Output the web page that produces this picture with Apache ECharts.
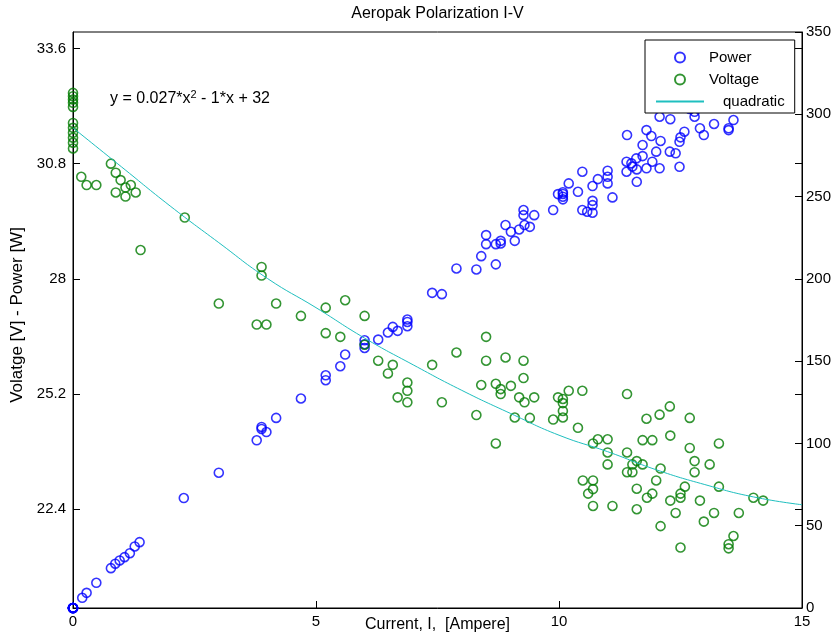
<!DOCTYPE html>
<html>
<head>
<meta charset="utf-8">
<script src="https://cdn.jsdelivr.net/npm/echarts@6/dist/echarts.min.js"></script>
<style>
  html, body { margin: 0; padding: 0; background: #fff; }
  #chart { width: 832px; height: 635px; }
</style>
</head>
<body>
<div id="chart"></div>
<script>
// Measured cell voltage [V] against current [A]
const voltageCurrent = [
  0, 0, 0, 0, 0, 0, 0, 0, 0, 0, 0,
  0.17, 0.28, 0.48, 0.78, 0.88, 0.98, 0.88, 1.08, 1.08, 1.19, 1.29, 1.39,
  2.30, 3.00, 3.78, 3.88, 3.88, 3.98, 4.18, 4.69,
  5.20, 5.20, 5.50, 5.60, 6.00, 6.00, 6.28, 6.48, 6.58, 6.68, 6.88, 6.88, 6.88,
  7.39, 7.59, 7.89, 8.30, 8.40, 8.50, 8.50, 8.70, 8.70, 8.80, 8.80, 8.90,
  9.01, 9.09, 9.18, 9.27, 9.27, 9.29, 9.40, 9.49, 9.88, 9.98,
  10.08, 10.08, 10.08, 10.08, 10.20, 10.39, 10.48, 10.49, 10.60,
  10.70, 10.70, 10.70, 10.70, 10.80, 11.00, 11.00, 11.00, 11.10,
  11.40, 11.40, 11.40, 11.51, 11.51, 11.60, 11.60, 11.60, 11.72, 11.72,
  11.80, 11.81, 11.92, 11.92, 12.00, 12.07, 12.09, 12.09,
  12.28, 12.29, 12.29, 12.40, 12.50, 12.50, 12.50, 12.59, 12.69, 12.69,
  12.79, 12.79, 12.90, 12.98, 13.10, 13.19, 13.29, 13.29,
  13.49, 13.49, 13.59, 13.70, 14.00, 14.20
];
const voltage = [
  32.52, 32.44, 32.36, 32.28, 32.18, 31.79, 31.67, 31.55, 31.43, 31.31, 31.17,
  30.48, 30.28, 30.28, 30.80, 30.58, 30.40, 30.10, 30.22, 30.00, 30.28, 30.10, 28.70,
  29.49, 27.40, 26.89, 28.29, 28.08, 26.89, 27.40, 27.10,
  27.30, 26.68, 26.59, 27.48, 27.10, 26.40, 26.01, 25.70, 25.91, 25.12, 25.48, 25.28, 25.00,
  25.91, 25.00, 26.21, 24.69, 25.42, 26.59, 26.01, 25.45, 24.00, 25.32, 25.20, 26.09,
  25.40, 24.63, 25.12, 26.01, 25.59, 25.00, 24.62, 25.12, 24.58, 25.12,
  25.08, 24.98, 24.79, 24.63, 25.28, 24.38, 25.28, 23.10, 22.78,
  24.00, 23.10, 22.89, 22.48, 24.10, 24.10, 23.78, 23.49, 22.48,
  25.20, 23.78, 23.30, 23.30, 23.49, 23.57, 22.90, 22.40, 23.49, 24.08,
  24.60, 22.68, 24.08, 22.78, 23.10, 24.70, 23.39, 21.99,
  24.90, 24.19, 22.61, 22.31, 22.78, 22.68, 21.47, 22.95, 24.62, 23.89,
  23.57, 23.30, 22.61, 22.10, 23.49, 22.31, 24.00, 22.95,
  21.55, 21.45, 21.75, 22.31, 22.68, 22.61
];

// Measured electrical power [W] against current [A]
const powerCurrent = [
  0, 0, 0, 0, 0, 0, 0, 0, 0, 0, 0,
  0.19, 0.28, 0.48, 0.78, 0.87, 0.96, 1.06, 1.17, 1.27, 1.37,
  2.28, 3.00, 3.78, 3.88, 3.88, 3.98, 4.18, 4.69,
  5.20, 5.20, 5.50, 5.60, 6.00, 6.00, 6.00, 6.28, 6.48, 6.58, 6.68, 6.88, 6.88, 6.88,
  7.39, 7.59, 7.89, 8.30, 8.40, 8.50, 8.50, 8.70, 8.70, 8.80, 8.80, 8.90,
  9.01, 9.09, 9.18, 9.27, 9.27, 9.29, 9.40, 9.49, 9.88, 9.98,
  10.08, 10.08, 10.08, 10.08, 10.20, 10.39, 10.48, 10.48, 10.58,
  10.69, 10.69, 10.69, 10.69, 10.80, 11.00, 11.00, 11.00, 11.10,
  11.40, 11.39, 11.39, 11.49, 11.51, 11.59, 11.60, 11.60, 11.72, 11.72,
  11.80, 11.80, 11.90, 11.92, 12.00, 12.07, 12.09, 12.07,
  12.29, 12.28, 12.40, 12.48, 12.48, 12.50, 12.58, 12.79, 12.90, 12.98,
  13.19, 13.49, 13.49, 13.59,
  12.28, 12.69, 12.69, 12.79, 13.10, 13.29, 13.29, 13.70, 14.00, 14.20
];
const power = [
  0, 0, 0, 0, 0, 0, 0, 0, 0, 0, 0,
  6.2, 9.2, 15.3, 24.2, 26.9, 28.9, 30.9, 33.3, 37.4, 40.0,
  66.8, 82.2, 101.9, 110.0, 108.8, 106.9, 115.5, 127.3,
  141.4, 138.4, 146.9, 154.0, 162.7, 160.3, 158.0, 163.1, 167.4, 170.8, 168.4, 175.3, 173.8, 171.2,
  191.5, 190.7, 206.3, 205.7, 213.8, 226.6, 221.1, 221.1, 208.8, 221.5, 223.1, 232.7,
  228.6, 223.1, 230.0, 241.8, 238.7, 232.7, 231.6, 238.7, 241.8, 251.5,
  252.6, 251.6, 249.9, 248.3, 258.0, 252.9, 265.1, 241.8, 240.8,
  256.4, 247.4, 244.8, 240.2, 260.6, 265.7, 262.0, 258.0, 249.5,
  287.4, 271.2, 265.1, 270.2, 268.2, 273.2, 266.5, 259.0, 274.6, 281.3,
  290.4, 267.2, 286.8, 271.2, 277.3, 267.2, 283.8, 298.5,
  297.0, 277.3, 276.3, 268.1, 283.3, 286.0, 289.4, 298.5, 291.5, 287.4,
  294.1, 290.4, 291.5, 296.5,
  305.8, 312.4, 303.2, 301.5, 307.7, 319.0, 305.0, 305.6, 317.5, 321.0
];

// Quadratic fit of voltage against current
const fitCurrent = [0, 1, 2, 3, 4, 5, 6, 7, 8, 9, 10, 11, 12, 13, 14, 15];
const fitVoltage = [31.67, 30.72, 29.77, 28.88, 28.01, 27.30, 26.56, 25.91,
                    25.29, 24.73, 24.20, 23.80, 23.36, 23.00, 22.70, 22.51];

// Axis tick labels
const currentTicks = [0, 5, 10, 15];
const voltageTicks = [22.4, 25.2, 28, 30.8, 33.6];
const powerTicks = [0, 50, 100, 150, 200, 250, 300, 350];

const FONT = "'Liberation Sans', Arial, sans-serif";
const pairs = (xs, ys) => xs.map((x, i) => [x, ys[i]]);

const chart = echarts.init(document.getElementById('chart'), null, { renderer: 'canvas' });

const labelStyle = { color: '#000', fontSize: 15, fontFamily: FONT };
const tickLine = { color: '#000', width: 1 };

chart.setOption({
  animation: false,
  backgroundColor: '#fff',
  textStyle: { fontFamily: FONT },
  grid: {
    left: 73, right: 30, top: 32, bottom: 27,
    outerBoundsMode: 'none',
    show: true, borderColor: '#000', borderWidth: 1, backgroundColor: '#fff'
  },
  graphic: [
    {
      type: 'text', x: 437.5, y: 14,
      style: { text: 'Aeropak Polarization I-V', fill: '#000', font: '16px ' + FONT,
               textAlign: 'center', textVerticalAlign: 'middle' }
    },
    {
      type: 'text', x: 110, y: 98, z: 5,
      style: {
        text: '{a|y = 0.027*x}{s|2}{a| - 1*x + 32}',
        textVerticalAlign: 'middle',
        rich: {
          a: { fontSize: 16, fontFamily: FONT, fill: '#000', lineHeight: 18, verticalAlign: 'bottom' },
          s: { fontSize: 11, fontFamily: FONT, fill: '#000', lineHeight: 18, verticalAlign: 'top' }
        }
      }
    }
  ],
  legend: {
    data: [
      { name: 'Power' },
      { name: 'Voltage' },
      { name: 'quadratic', itemStyle: { color: 'rgba(0,0,0,0)', borderWidth: 0, opacity: 0 } }
    ],
    orient: 'vertical',
    left: 645, top: 40,
    padding: [10, 10, 4, 10],
    itemGap: 7, itemWidth: 48, itemHeight: 10,
    backgroundColor: '#fff', borderColor: '#000', borderWidth: 1, borderRadius: 0,
    z: 20,
    selectedMode: false,
    textStyle: {
      color: '#000', fontSize: 15, fontFamily: FONT,
      rich: { q: { fontSize: 15, fontFamily: FONT, color: '#000', padding: [0, 0, 0, 14] } }
    },
    formatter: name => (name === 'quadratic' ? '{q|' + name + '}' : name)
  },
  xAxis: {
    type: 'value', min: 0, max: 15, interval: 5,
    name: 'Current, I,  [Ampere]', nameLocation: 'middle', nameGap: 9, nameMoveOverlap: false,
    nameTextStyle: { color: '#000', fontSize: 16, fontFamily: FONT },
    axisLine: { lineStyle: { color: '#000', width: 1 } },
    axisTick: { inside: true, length: 7, lineStyle: tickLine },
    axisLabel: Object.assign({ margin: 6 }, labelStyle),
    splitLine: { show: false }
  },
  yAxis: [
    {
      type: 'value', min: 20, max: 34, position: 'left',
      name: 'Volatge [V] - Power [W]', nameLocation: 'middle', nameGap: 47, nameMoveOverlap: false,
      nameTextStyle: { color: '#000', fontSize: 17, fontFamily: FONT, padding: [0, 0, 0, 10] },
      axisLine: { show: true, lineStyle: { color: '#000', width: 1 } },
      axisTick: { customValues: voltageTicks, inside: true, length: 7, lineStyle: tickLine },
      axisLabel: Object.assign({ customValues: voltageTicks, margin: 7 }, labelStyle),
      splitLine: { show: false }
    },
    {
      type: 'value', min: 0, max: 350, interval: 50, position: 'right',
      axisLine: { show: true, lineStyle: { color: '#000', width: 1 } },
      axisTick: { inside: true, length: 7, lineStyle: tickLine },
      axisLabel: Object.assign({ margin: 4 }, labelStyle),
      splitLine: { show: false }
    },
    {
      // voltage ticks repeated along the right border
      type: 'value', min: 20, max: 34, position: 'right',
      axisLine: { show: false },
      axisTick: { customValues: voltageTicks, inside: true, length: 7, lineStyle: tickLine },
      axisLabel: { show: false },
      splitLine: { show: false }
    }
  ],
  series: [
    {
      name: 'Power', type: 'scatter', yAxisIndex: 1,
      data: pairs(powerCurrent, power),
      symbol: 'circle', symbolSize: 9,
      itemStyle: { color: 'rgba(255,255,255,0)', borderColor: '#0000ff', borderWidth: 1.6 },
      emphasis: { disabled: true }
    },
    {
      name: 'Voltage', type: 'scatter', yAxisIndex: 0,
      data: pairs(voltageCurrent, voltage),
      symbol: 'circle', symbolSize: 9,
      itemStyle: { color: 'rgba(255,255,255,0)', borderColor: '#007a00', borderWidth: 1.6 },
      emphasis: { disabled: true }
    },
    {
      name: 'quadratic', type: 'line', yAxisIndex: 0,
      data: pairs(fitCurrent, fitVoltage),
      smooth: true, symbol: 'none', showSymbol: false,
      lineStyle: { color: '#1fbfbf', width: 1 },
      itemStyle: { color: '#1fbfbf' },
      emphasis: { disabled: true }
    }
  ]
});
</script>
</body>
</html>
